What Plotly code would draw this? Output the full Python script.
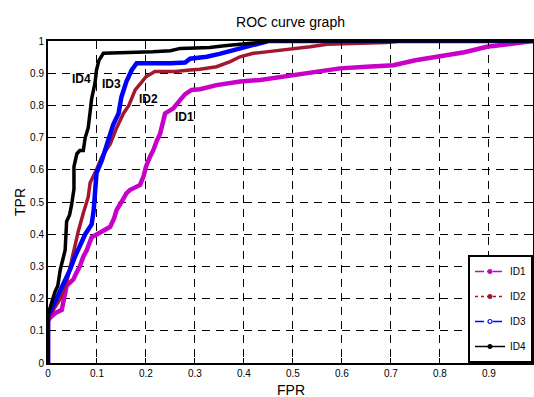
import plotly.graph_objects as go

# ---- data ----
fpr1 = [0, 0, 0.004, 0.015, 0.028, 0.033, 0.038, 0.045, 0.052, 0.058, 0.065, 0.072, 0.079, 0.089, 0.1, 0.113,
        0.127, 0.135, 0.14, 0.15, 0.16, 0.167, 0.178, 0.188, 0.195, 0.2, 0.208, 0.215, 0.222, 0.229, 0.239,
        0.256, 0.27, 0.28, 0.293, 0.31, 0.344, 0.392, 0.433, 0.5, 0.55, 0.596, 0.65, 0.705, 0.75, 0.8, 0.85,
        0.896, 0.94, 0.99]
tpr1 = [0, 0.13, 0.14, 0.155, 0.165, 0.2, 0.24, 0.25, 0.26, 0.28, 0.30, 0.33, 0.35, 0.39, 0.40, 0.41,
        0.423, 0.45, 0.475, 0.50, 0.527, 0.537, 0.545, 0.553, 0.58, 0.61, 0.64, 0.661, 0.69, 0.713, 0.775,
        0.791, 0.817, 0.835, 0.848, 0.85, 0.863, 0.874, 0.879, 0.894, 0.905, 0.915, 0.92, 0.925, 0.94, 0.951,
        0.965, 0.982, 0.99, 1.0]

fpr2 = [0, 0, 0.005, 0.011, 0.025, 0.038, 0.048, 0.055, 0.062, 0.072, 0.082, 0.086, 0.099, 0.11, 0.127,
        0.14, 0.154, 0.165, 0.178, 0.19, 0.2, 0.218, 0.26, 0.29, 0.31, 0.344, 0.372, 0.392, 0.419, 0.45,
        0.5, 0.535, 0.57, 0.69, 0.72, 0.85, 0.99]
tpr2 = [0, 0.13, 0.15, 0.165, 0.2, 0.25, 0.32, 0.36, 0.41, 0.465, 0.515, 0.56, 0.6, 0.64, 0.68,
        0.73, 0.775, 0.80, 0.848, 0.87, 0.889, 0.905, 0.905, 0.91, 0.912, 0.92, 0.936, 0.951, 0.962, 0.967,
        0.975, 0.982, 0.99, 0.995, 1.0, 1.0, 1.0]

fpr3 = [0, 0, 0.005, 0.014, 0.025, 0.035, 0.045, 0.055, 0.066, 0.076, 0.089, 0.093, 0.096, 0.099, 0.11,
        0.12, 0.133, 0.144, 0.15, 0.155, 0.16, 0.171, 0.181, 0.25, 0.28, 0.29, 0.324, 0.35, 0.378, 0.40,
        0.426, 0.45, 0.6, 0.8, 0.99]
tpr3 = [0, 0.15, 0.16, 0.19, 0.22, 0.26, 0.29, 0.33, 0.37, 0.40, 0.43, 0.47, 0.53, 0.59, 0.63,
        0.68, 0.74, 0.775, 0.827, 0.85, 0.874, 0.91, 0.931, 0.931, 0.933, 0.945, 0.951, 0.96, 0.972, 0.98,
        0.99, 1.0, 1.0, 1.0, 1.0]

fpr4 = [0, 0, 0.004, 0.01, 0.014, 0.02, 0.025, 0.03, 0.035, 0.038, 0.044, 0.048, 0.053, 0.053, 0.059,
        0.065, 0.072, 0.076, 0.082, 0.086, 0.089, 0.096, 0.099, 0.104, 0.113, 0.214, 0.25, 0.27, 0.33, 0.36,
        0.40, 0.43, 0.45, 0.6, 0.8, 0.99]
tpr4 = [0, 0.15, 0.17, 0.2, 0.22, 0.24, 0.29, 0.32, 0.35, 0.44, 0.46, 0.49, 0.54, 0.61, 0.65,
        0.66, 0.66, 0.70, 0.73, 0.78, 0.82, 0.87, 0.91, 0.94, 0.962, 0.967, 0.97, 0.977, 0.98, 0.985,
        0.99, 0.995, 1.0, 1.0, 1.0, 1.0]

series_names = ["ID1", "ID2", "ID3", "ID4"]
x_ticks = [0, 0.1, 0.2, 0.3, 0.4, 0.5, 0.6, 0.7, 0.8, 0.9]
x_ticktext = ["0", "0.1", "0.2", "0.3", "0.4", "0.5", "0.6", "0.7", "0.8", "0.9"]
y_ticks = [0, 0.1, 0.2, 0.3, 0.4, 0.5, 0.6, 0.7, 0.8, 0.9, 1.0]
y_ticktext = ["0", "0.1", "0.2", "0.3", "0.4", "0.5", "0.6", "0.7", "0.8", "0.9", "1"]
label_x = [0.278, 0.206, 0.13, 0.069]
label_y = [0.765, 0.82, 0.868, 0.882]

colors = ["#C800C8", "#A3172F", "#0000FF", "#000000"]
widths = [4.5, 3.5, 4.5, 3.5]
dashes = ["dashdot", "dot", "dash", "solid"]
symbols = ["circle", "circle", "circle-open", "circle"]

fig = go.Figure()
curves = [(fpr1, tpr1), (fpr2, tpr2), (fpr3, tpr3), (fpr4, tpr4)]
for (xs, ys), name, c, w in zip(curves, series_names, colors, widths):
    fig.add_trace(go.Scatter(x=xs, y=ys, mode="lines", name=name, showlegend=False,
                             line=dict(color=c, width=w), hoverinfo="skip"))

# legend entries (thin styled lines with markers)
for i, (name, c, d, s) in enumerate(zip(series_names, colors, dashes, symbols)):
    fig.add_trace(go.Scatter(x=[None], y=[None], mode="lines+markers", name=name,
                             legendgroup=name,
                             line=dict(color=c, width=1.5, dash=d),
                             marker=dict(color=c, size=4, symbol=s, line=dict(color=c, width=1.2))))

for name, lx, ly in zip(series_names, label_x, label_y):
    fig.add_annotation(x=lx, y=ly, text="<b>%s</b>" % name, showarrow=False,
                       font=dict(family="Liberation Sans, Arial", size=12, color="black"))

# axis titles placed just outside the plot frame
fig.add_annotation(x=0.5, y=0, xref="paper", yref="paper", yshift=-27, text="FPR",
                   showarrow=False, yanchor="middle", font=dict(size=14, color="black"))
fig.add_annotation(x=0, y=0.5, xref="paper", yref="paper", xshift=-28, text="TPR", textangle=-90,
                   showarrow=False, xanchor="center", font=dict(size=14, color="black"))

axis_common = dict(showline=True, linecolor="black", linewidth=2, mirror="ticks",
                   ticks="inside", ticklen=5, tickcolor="black", tickwidth=1,
                   showgrid=True, gridcolor="black", gridwidth=1, griddash="8px,6px",
                   zeroline=False, tickfont=dict(size=10, color="black"), automargin=False)

fig.update_xaxes(range=[0, 0.99], tickvals=x_ticks, ticktext=x_ticktext, **axis_common)
fig.update_yaxes(range=[0, 1], tickvals=y_ticks, ticktext=y_ticktext, **axis_common)

fig.update_layout(
    width=534, height=397,
    margin=dict(l=48, r=1, t=41, b=34, autoexpand=False),
    paper_bgcolor="white", plot_bgcolor="white",
    font=dict(family="Liberation Sans, Arial", color="black"),
    title=dict(text="ROC curve graph", x=0.5, xref="paper", y=1 - 22 / 397, yref="container",
               yanchor="middle", xanchor="center", font=dict(size=14, color="black")),
    legend=dict(x=1, y=0, xanchor="right", yanchor="bottom", bgcolor="white",
                bordercolor="black", borderwidth=2, font=dict(size=10, color="black"),
                traceorder="grouped", tracegroupgap=6),
    showlegend=True,
)

fig.write_html("out.html", config={"displayModeBar": False},
               post_script="document.body.style.margin='0';document.body.style.overflow='hidden';")
